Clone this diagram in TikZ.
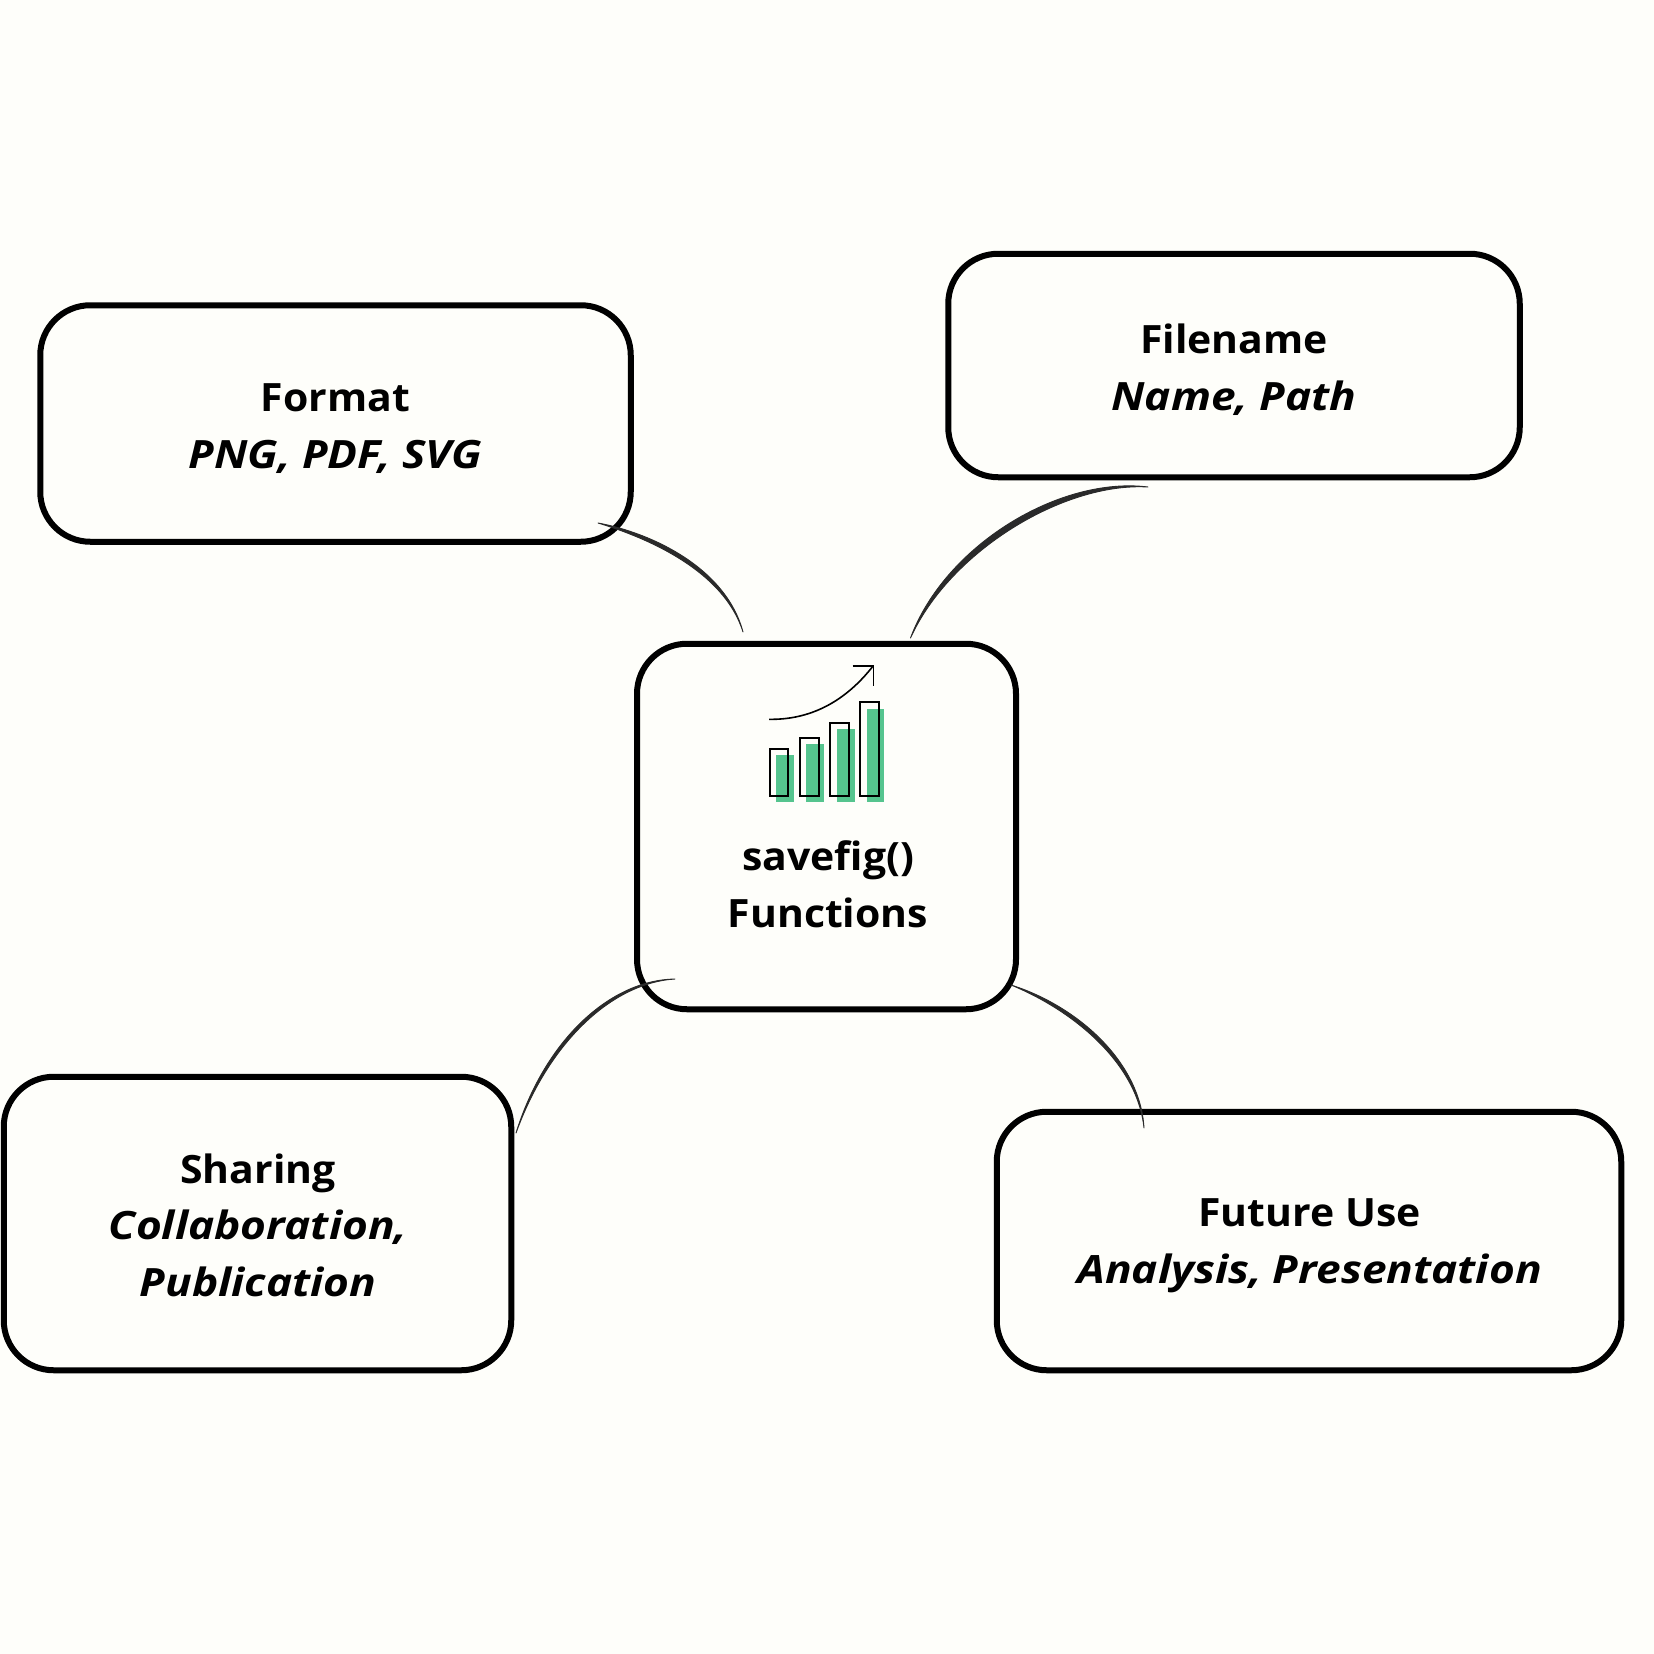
\documentclass[tikz,border=0pt]{standalone}
\usepackage{fontspec}
\setmainfont{Open Sans}[BoldFeatures={FakeStretch=1.05},BoldItalicFeatures={FakeStretch=1.135}]
\usetikzlibrary{calc}
\definecolor{paper}{HTML}{FEFEFA}
\definecolor{barfill}{HTML}{55C48E}
\definecolor{linkcol}{HTML}{2A2A2A}
\tikzset{
  x=1pt,y=-1pt,
  card/.style={draw=black,line width=6pt,rounded corners=50pt,rectangle,inner sep=0pt,outer sep=0pt,anchor=center},
  cardtext/.style={anchor=base,align=center,inner sep=0pt,outer sep=0pt,font=\fontsize{39}{56.5}\selectfont\bfseries},
  link/.style={draw=linkcol,fill=linkcol,line width=0.9pt,line join=round},
  barout/.style={draw=black,line width=1.7pt,fill=none},
  bargreen/.style={fill=barfill,draw=none},
  trend/.style={draw=black,line width=1.6pt,fill=none}
}
\begin{document}
\begin{tikzpicture}
\useasboundingbox (0,0) rectangle (1654,1654);
\fill[paper] (0,0) rectangle (1654,1654);

% boxes
\node[card,minimum width=379pt,minimum height=365.5pt] (center) at (826.5,826.5) {};
\node[card,minimum width=590.5pt,minimum height=236.5pt] (fmt) at (335.5,423.5) {};
\node[card,minimum width=571.5pt,minimum height=223.5pt] (file) at (1234,365.5) {};
\node[card,minimum width=507.5pt,minimum height=293.5pt] (share) at (257.5,1223.5) {};
\node[card,minimum width=624.5pt,minimum height=258.5pt] (future) at (1309,1241) {};

% texts (anchored on the baseline of the last line)
\node[cardtext] (fmtt) at (335.5,468) {Format\\\textit{PNG, PDF, SVG}};
\node[cardtext] (filet) at (1234,410) {Filename\\\textit{Name, Path}};
\node[cardtext] (sharet) at (258,1296) {Sharing\\\textit{Collaboration,}\\\textit{Publication}};
\node[cardtext] (futuret) at (1309.5,1283) {Future Use\\\textit{Analysis, Presentation}};
\node[cardtext] (centert) at (828,927) {savefig()\\Functions};

% connector ends
\coordinate (fa) at (598,523);
\coordinate (fb) at (743,632);
\coordinate (na) at (1148,487);
\coordinate (nb) at (910.5,638);
\coordinate (sa) at (675,979);
\coordinate (sb) at (516,1133);
\coordinate (ua) at (1011,985);
\coordinate (ub) at (1144,1128);

% tapered connectors
\draw[link] (fa) .. controls (652,533) and (726,568) .. (fb) .. controls (724,571) and (648,538) .. cycle;
\draw[link] (na) .. controls (1060,476) and (945,545) .. (nb) .. controls (950,551) and (1064,482) .. cycle;
\draw[link] (sa) .. controls (610,980) and (545,1040) .. (sb) .. controls (549,1042) and (612,983) .. cycle;
\draw[link] (ua) .. controls (1075,1005) and (1140,1060) .. (ub) .. controls (1137,1062) and (1072,1010) .. cycle;

% icon bars
\fill[bargreen] (776,755.3) rectangle (794,801.7);
\fill[bargreen] (806,744.3) rectangle (824,801.7);
\fill[bargreen] (836.7,729.3) rectangle (854.7,801.7);
\fill[bargreen] (866.7,709.3) rectangle (884.3,801.7);
\draw[barout] (769.7,749) rectangle (788.3,796.3);
\draw[barout] (800,737.7) rectangle (818.7,796.3);
\draw[barout] (830,722.7) rectangle (848.7,796.3);
\draw[barout] (860.3,702.3) rectangle (879,796.3);
% icon trend arrow
\draw[trend] (769,719.3) .. controls (810,720) and (845,702) .. (873.3,665.7);
\draw[trend] (852.7,665.7) -- (873.3,665.7) -- (873.3,685.7);
\end{tikzpicture}
\end{document}
